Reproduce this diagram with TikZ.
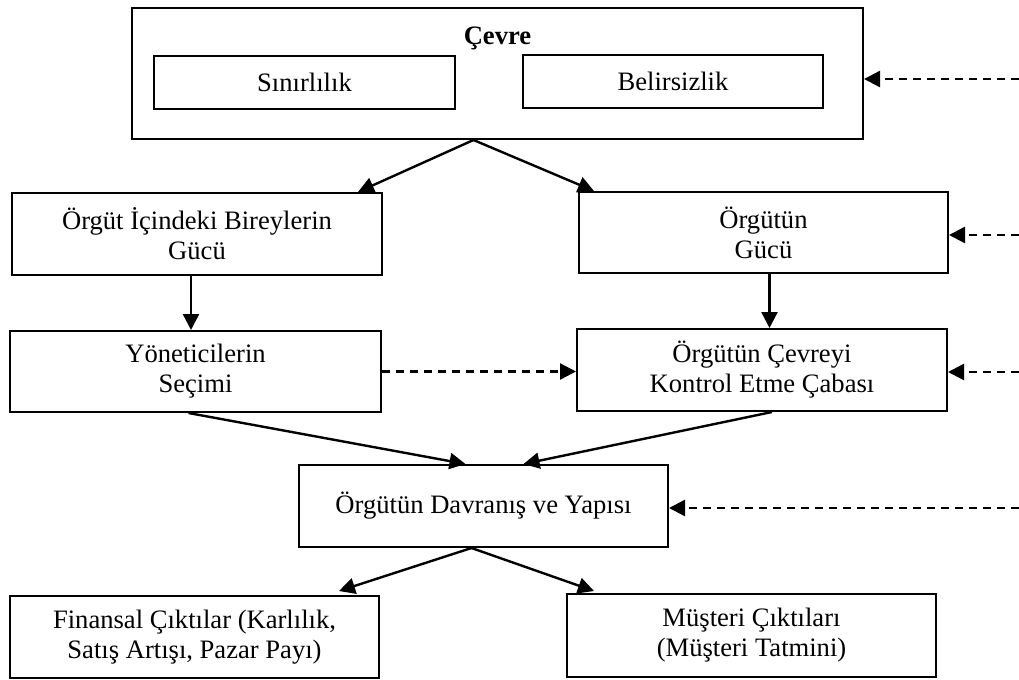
\documentclass[tikz,border=0pt]{standalone}
\usepackage{fontspec}
\setmainfont{Liberation Serif}
\usetikzlibrary{arrows.meta,calc}
\begin{document}
\begin{tikzpicture}[x=0.5pt,y=-0.5pt,
  box/.style={draw,line width=1pt,inner sep=0pt,align=center,
    font=\fontsize{13.3}{15}\selectfont},
  conn/.style={line width=1.2pt,-{Triangle[length=8pt,width=8pt]}},
  dconn/.style={conn,dash pattern=on 4pt off 3pt}]
\useasboundingbox (0,0) rectangle (1019,680);

% environment block
\node[box,minimum width=731*0.5pt,minimum height=131*0.5pt] (cevre) at (497.5,73.5) {};
\node[font=\fontsize{13.3}{15}\selectfont\bfseries] (cevret) at (497.5,38) {Çevre};
\node[box,minimum width=301*0.5pt,minimum height=53*0.5pt] (sinir) at (304.5,82) {Sınırlılık};
\node[box,minimum width=300*0.5pt,minimum height=53*0.5pt] (belir) at (673,81) {Belirsizlik};

% power and control
\node[box,minimum width=370*0.5pt,minimum height=82*0.5pt] (birey) at (197,234) {Örgüt İçindeki Bireylerin\\Gücü};
\node[box,minimum width=369*0.5pt,minimum height=81*0.5pt] (guc) at (763.5,232.5) {Örgütün\\Gücü};
\node[box,minimum width=371*0.5pt,minimum height=81*0.5pt] (yonet) at (195.5,371.5) {Yöneticilerin\\Seçimi};
\node[box,minimum width=370*0.5pt,minimum height=82*0.5pt] (kontrol) at (762,370) {Örgütün Çevreyi\\Kontrol Etme Çabası};

% behaviour and outcomes
\node[box,minimum width=369*0.5pt,minimum height=82*0.5pt] (davr) at (483.5,506) {Örgütün Davranış ve Yapısı};
\node[box,minimum width=369*0.5pt,minimum height=82*0.5pt] (fin) at (194.5,637) {Finansal Çıktılar (Karlılık,\\Satış Artışı, Pazar Payı)};
\node[box,minimum width=369*0.5pt,minimum height=83*0.5pt] (must) at (751.5,635.5) {Müşteri Çıktıları\\(Müşteri Tatmini)};

% solid connectors
\coordinate (top) at ($(cevre.south)+(-24,0)$);
\coordinate (mid) at ($(davr.south)+(-12,0)$);
\coordinate (v1) at ($(birey.south)+(-6,0)$);
\coordinate (v2) at ($(guc.south)+(6,0)$);
\draw[conn] (top) -- ($(birey.north east)+(-25,0)$);
\draw[conn] (top) -- ($(guc.north west)+(16,0)$);
\draw[conn] (v1) -- (v1 |- yonet.north);
\draw[conn] (v2) -- (v2 |- kontrol.north);
\draw[conn] ($(yonet.south)+(-7,0)$) -- ($(davr.north)+(-18,0)$);
\draw[conn] ($(kontrol.south)+(10,0)$) -- ($(davr.north)+(40,0)$);
\draw[conn] (mid) -- ($(fin.north east)+(-41,-4)$);
\draw[conn] (mid) -- ($(must.north west)+(28,-2)$);

% dashed feedback connectors
\coordinate (f1) at (1019,79);
\coordinate (f2) at (1019,235);
\coordinate (f3) at (1019,372);
\coordinate (f4) at (1019,508);
\draw[dconn] (f1) -- (f1 -| cevre.east);
\draw[dconn] (f2) -- (f2 -| guc.east);
\draw[dconn] (f3) -- (f3 -| kontrol.east);
\draw[dconn] (f4) -- (f4 -| davr.east);
\draw[dconn] (yonet.east) -- (yonet.east -| kontrol.west);
\end{tikzpicture}
\end{document}
